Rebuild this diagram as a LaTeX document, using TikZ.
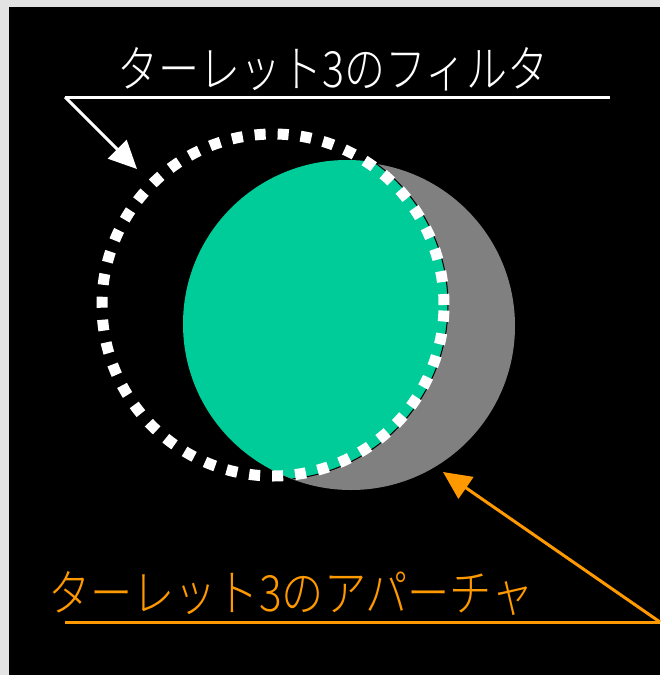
\documentclass[tikz,border=0pt]{standalone}
\usepackage{fontspec}
\IfFontExistsTF{Noto Sans CJK JP Light}
  {\newfontfamily\jpfont{Noto Sans CJK JP Light}}
  {\newfontfamily\jpfont{Noto Sans CJK JP}}
\usetikzlibrary{arrows.meta}

\definecolor{filtgreen}{RGB}{0,204,153}
\definecolor{apgray}{RGB}{128,128,128}
\definecolor{aporange}{RGB}{255,153,0}

\begin{document}
\begin{tikzpicture}[x=1pt, y=1pt]

\tikzset{
  lbl/.style     = {font=\jpfont\fontsize{50}{50}\selectfont, inner sep=0pt,
                    xscale=0.82, transform shape},
  dotring/.style = {draw=white, line width=11pt, dash pattern=on 11pt off 12pt},
  warr/.style    = {-{Triangle[length=28pt,width=26pt]}, line width=3pt, white},
  oarr/.style    = {-{Triangle[length=28pt,width=26pt]}, line width=3pt, aporange}
}

%% -- Background --------------------------------------------------
\fill[gray!22] (0,0) rectangle (660,-675);
\fill[black]   (9,-7) rectangle (660,-675);

%% -- Aperture and filter -----------------------------------------
\fill[apgray] (351,-326) circle (164);
\begin{scope}
  \clip (347,-324) circle (164);
  \filldraw[fill=filtgreen, draw=black, line width=1pt] (273,-305) circle (175);
\end{scope}
\draw[dotring] (273,-305) circle (171);

%% -- Labels ------------------------------------------------------
\node[lbl, text=white]    (filtlbl) at (333,-69)  {ターレット3のフィルタ};
\node[lbl, text=aporange, xscale=1.03] (aplbl) at (291,-594) {ターレット3のアパーチャ};

%% -- Leader lines ------------------------------------------------
\coordinate (filtL)   at (65,-97);
\coordinate (filtR)   at (610,-97);
\coordinate (filtTip) at (137,-169);
\coordinate (apL)     at (65,-622);
\coordinate (apR)     at (660,-622);
\coordinate (apTip)   at (443,-472);

\draw[white, line width=3pt] (filtR) -- (filtL);
\draw[warr] (filtL) -- (filtTip);
\draw[aporange, line width=3pt] (apL) -- (apR);
\draw[oarr] (apR) -- (apTip);

\end{tikzpicture}
\end{document}
